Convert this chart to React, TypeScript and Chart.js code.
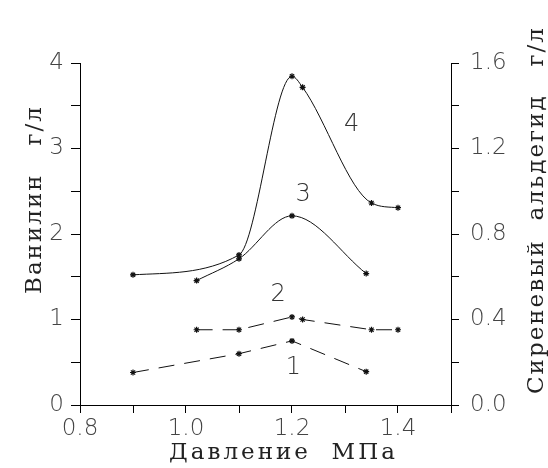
import React, { useEffect, useRef } from "react";
import { Chart, registerables } from "chart.js";

Chart.register(...registerables);

// Pressure, MPa
const s1X = [0.9, 1.1, 1.2, 1.34];
const s1Y = [0.38, 0.6, 0.75, 0.39]; // vanillin, g/l
const s2X = [1.02, 1.1, 1.2, 1.22, 1.35, 1.4];
const s2Y = [0.88, 0.88, 1.03, 1.0, 0.88, 0.88]; // vanillin, g/l
const s3X = [1.02, 1.1, 1.2, 1.34];
const s3Y = [0.582, 0.684, 0.885, 0.615]; // syringaldehyde, g/l
const s4X = [0.9, 1.1, 1.2, 1.22, 1.35, 1.4];
const s4Y = [0.609, 0.702, 1.538, 1.486, 0.945, 0.923]; // syringaldehyde, g/l

const curveLabels = ["1", "2", "3", "4"];
const curveLabelX = [1.2025, 1.174, 1.221, 1.3126];
const curveLabelY = [0.43, 1.29, 2.46, 3.28]; // in left-axis units

const xTitle = "Давление  МПа";
const yTitle = "Ванилин   г/л";
const y2Title = "Сиреневый  альдегид   г/л";

const pts = (xs: number[], ys: number[]) => xs.map((x, i) => ({ x, y: ys[i] }));

export default function App() {
  const ref = useRef<HTMLCanvasElement | null>(null);
  useEffect(() => {
    document.body.style.margin = "0";
    const canvas = ref.current!;
    const tickFont = { family: "DejaVu Sans", size: 23, weight: 200 as any };
    const lineCommon = {
      borderColor: "#111",
      backgroundColor: "#111",
      borderWidth: 1,
      pointStyle: "star" as const,
      pointRadius: 3,
      pointBorderWidth: 1.2,
      pointBorderColor: "#111",
      fill: false,
    };
    const textPlugin = {
      id: "texts",
      afterDraw(chart: any) {
        const ctx = chart.ctx as CanvasRenderingContext2D;
        const xs = chart.scales.x;
        const ys = chart.scales.y;
        const ca = chart.chartArea;
        ctx.save();
        ctx.fillStyle = "#333";
        ctx.font = "200 24px 'DejaVu Sans'";
        ctx.textAlign = "center";
        ctx.textBaseline = "middle";
        curveLabels.forEach((t, i) => {
          ctx.fillText(t, xs.getPixelForValue(curveLabelX[i]), ys.getPixelForValue(curveLabelY[i]));
        });
        ctx.fillStyle = "#222";
        ctx.font = "23px 'DejaVu Serif'";
        (ctx as any).letterSpacing = "3px";
        ctx.textAlign = "center";
        ctx.textBaseline = "alphabetic";
        ctx.fillText(xTitle, (ca.left + ca.right) / 2 + 18, 459);
        (ctx as any).letterSpacing = "2px";
        // left title
        ctx.save();
        ctx.translate(41, 294);
        ctx.rotate(-Math.PI / 2);
        ctx.textAlign = "left";
        ctx.fillText(yTitle, 0, 0);
        ctx.restore();
        // right title
        ctx.save();
        ctx.translate(543, 394);
        ctx.rotate(-Math.PI / 2);
        ctx.textAlign = "left";
        ctx.fillText(y2Title, 0, 0);
        ctx.restore();
        ctx.restore();
      },
    };
    const chart = new Chart(canvas, {
      type: "line",
      data: {
        datasets: [
          { ...lineCommon, data: pts(s1X, s1Y), yAxisID: "y", borderDash: [16, 10], tension: 0 },
          { ...lineCommon, data: pts(s2X, s2Y), yAxisID: "y", borderDash: [16, 10], tension: 0 },
          { ...lineCommon, data: pts(s3X, s3Y), yAxisID: "y2", cubicInterpolationMode: "monotone" },
          { ...lineCommon, data: pts(s4X, s4Y), yAxisID: "y2", cubicInterpolationMode: "monotone" },
        ] as any,
      },
      options: {
        responsive: false,
        animation: false,
        devicePixelRatio: 1,
        layout: { padding: { top: 63, left: 0, right: 0, bottom: 0 } },
        plugins: { legend: { display: false }, tooltip: { enabled: false } },
        scales: {
          x: {
            type: "linear",
            min: 0.8,
            max: 1.5,
            afterFit: (s: any) => { s.height = 63; },
            border: { display: true, color: "#000", width: 1 },
            grid: { drawOnChartArea: false, drawTicks: true, tickLength: 8, color: "#000", tickColor: "#000" },
            ticks: {
              stepSize: 0.1,
              autoSkip: false,
              maxRotation: 0,
              padding: 2,
              color: "#444",
              font: tickFont,
              callback: (v: any) => {
                const n = Math.round(Number(v) * 10);
                return n % 2 === 0 && n < 15 ? (n / 10).toFixed(1) : "";
              },
            },
          },
          y: {
            type: "linear",
            position: "left",
            min: 0,
            max: 4,
            afterFit: (s: any) => { s.width = 80; },
            border: { display: true, color: "#000", width: 1 },
            grid: { drawOnChartArea: false, drawTicks: true, tickLength: 9, color: "#000", tickColor: "#000" },
            ticks: {
              stepSize: 0.5,
              autoSkip: false,
              padding: 7,
              color: "#444",
              font: tickFont,
              callback: (v: any) => {
                const n = Math.round(Number(v) * 2);
                return n % 2 === 0 ? String(n / 2) : "";
              },
            },
          },
          y2: {
            type: "linear",
            position: "right",
            min: 0,
            max: 1.6,
            afterFit: (s: any) => { s.width = 97; },
            border: { display: true, color: "#000", width: 1 },
            grid: { drawOnChartArea: false, drawTicks: true, tickLength: 8, color: "#000", tickColor: "#000" },
            ticks: {
              stepSize: 0.2,
              autoSkip: false,
              padding: 11,
              color: "#444",
              font: tickFont,
              callback: (v: any) => {
                const n = Math.round(Number(v) * 10);
                return n % 4 === 0 ? (n / 10).toFixed(1) : "";
              },
            },
          },
        },
      },
      plugins: [textPlugin],
    });
    return () => chart.destroy();
  }, []);
  return (
    <div style={{ width: 548, height: 468 }}>
      <canvas ref={ref} width={548} height={468} style={{ display: "block" }} />
    </div>
  );
}
